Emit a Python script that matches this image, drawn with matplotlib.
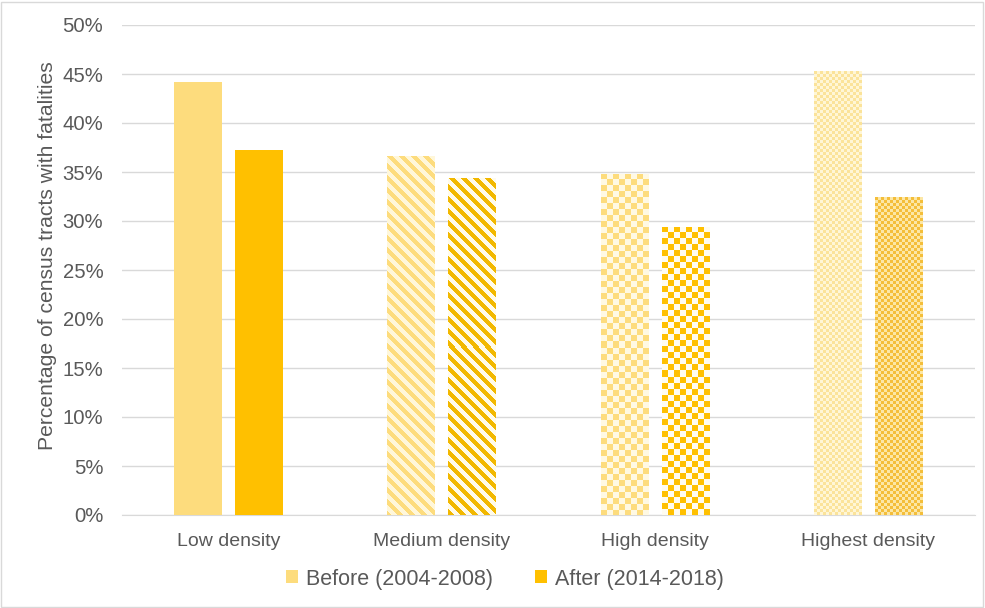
import numpy as np
import matplotlib.pyplot as plt
from matplotlib.colors import to_rgb
from matplotlib.patches import Rectangle, Patch

plt.rcParams['font.family'] = ['Liberation Sans', 'DejaVu Sans']

categories = ['Low density', 'Medium density', 'High density', 'Highest density']
before = [44.2, 36.6, 34.8, 45.3]
after = [37.2, 34.4, 29.4, 32.4]
series_labels = ['Before (2004-2008)', 'After (2014-2018)']

# fill style per category: (kind, cell size px, colours for before, colours for after)
patterns = [
    None,
    ('stripe', 6, ('#FDDC7D', '#FFF7DA'), ('#F2B800', '#FFFBEA')),
    ('check', 6, ('#FDDC7D', '#FFF9E3'), ('#FFC000', '#FFFCF0')),
    ('check', 3, ('#FBE39A', '#FFF6D6'), ('#F4BE3A', '#FCE7A6')),
]

def texture(w, h, kind, size, colors):
    jj, ii = np.meshgrid(np.arange(w), np.arange(h))
    if kind == 'stripe':
        mask = ((jj - ii) // size) % 2 == 0
    else:
        mask = ((jj // size) + (ii // size)) % 2 == 0
    img = np.empty((h, w, 3))
    img[mask] = to_rgb(colors[0])
    img[~mask] = to_rgb(colors[1])
    return img

fig = plt.figure(figsize=(9.85, 6.08), dpi=100)
ax = fig.add_axes([122 / 985, 93 / 608, 853 / 985, 490 / 608])

x = np.arange(len(categories))
w = 0.225
off = 0.143
b1 = ax.bar(x - off, before, w, color='#FDDC7D', zorder=3)
b2 = ax.bar(x + off, after, w, color='#FFC000', zorder=3)

ax.set_xlim(-0.5, len(categories) - 0.5)
ax.set_ylim(0, 50)
ax.set_yticks(np.arange(0, 51, 5))
ax.set_yticklabels([f'{v}%' for v in range(0, 51, 5)])
ax.set_xticks(x)
ax.set_xticklabels(categories)

# texture overlays clipped to the bars
fig.canvas.draw()
for i, pat in enumerate(patterns):
    if pat is None:
        continue
    kind, size, cb, ca = pat
    for bar, cols in ((b1[i], cb), (b2[i], ca)):
        bb = bar.get_window_extent()
        img = texture(max(int(round(bb.width)), 1), max(int(round(bb.height)), 1), kind, size, cols)
        bx, by = bar.get_x(), bar.get_y()
        im = ax.imshow(img, extent=(bx, bx + bar.get_width(), by, by + bar.get_height()),
                       interpolation='nearest', aspect='auto', zorder=4)
        im.set_clip_path(bar)
ax.set_xlim(-0.5, len(categories) - 0.5)
ax.set_ylim(0, 50)

ax.grid(axis='y', color='#D9D9D9', linewidth=1, zorder=0)
for s in ['top', 'right', 'left']:
    ax.spines[s].set_visible(False)
ax.spines['bottom'].set_color('#D9D9D9')
ax.tick_params(axis='both', length=0, colors='#595959')
ax.tick_params(axis='y', pad=13.5, labelsize=14.6)
ax.tick_params(axis='x', pad=13, labelsize=14)
ax.set_ylabel('Percentage of census tracts with fatalities', fontsize=15.2, color='#595959')
ax.yaxis.set_label_coords(-0.076, 0.529)

handles = [Patch(facecolor='#FDDC7D'), Patch(facecolor='#FFC000')]
fig.legend(handles, series_labels, loc='center', bbox_to_anchor=(505 / 985, 1 - 579 / 608), ncol=2,
           frameon=False, fontsize=15.5, labelcolor='#595959', handlelength=0.55, handleheight=0.55,
           handletextpad=0.4, columnspacing=1.93)

fig.add_artist(Rectangle((0.001, 0.002), 0.997, 0.995, transform=fig.transFigure,
                         fill=False, edgecolor='#D9D9D9', linewidth=1))

fig.savefig('out.png', dpi=100)
